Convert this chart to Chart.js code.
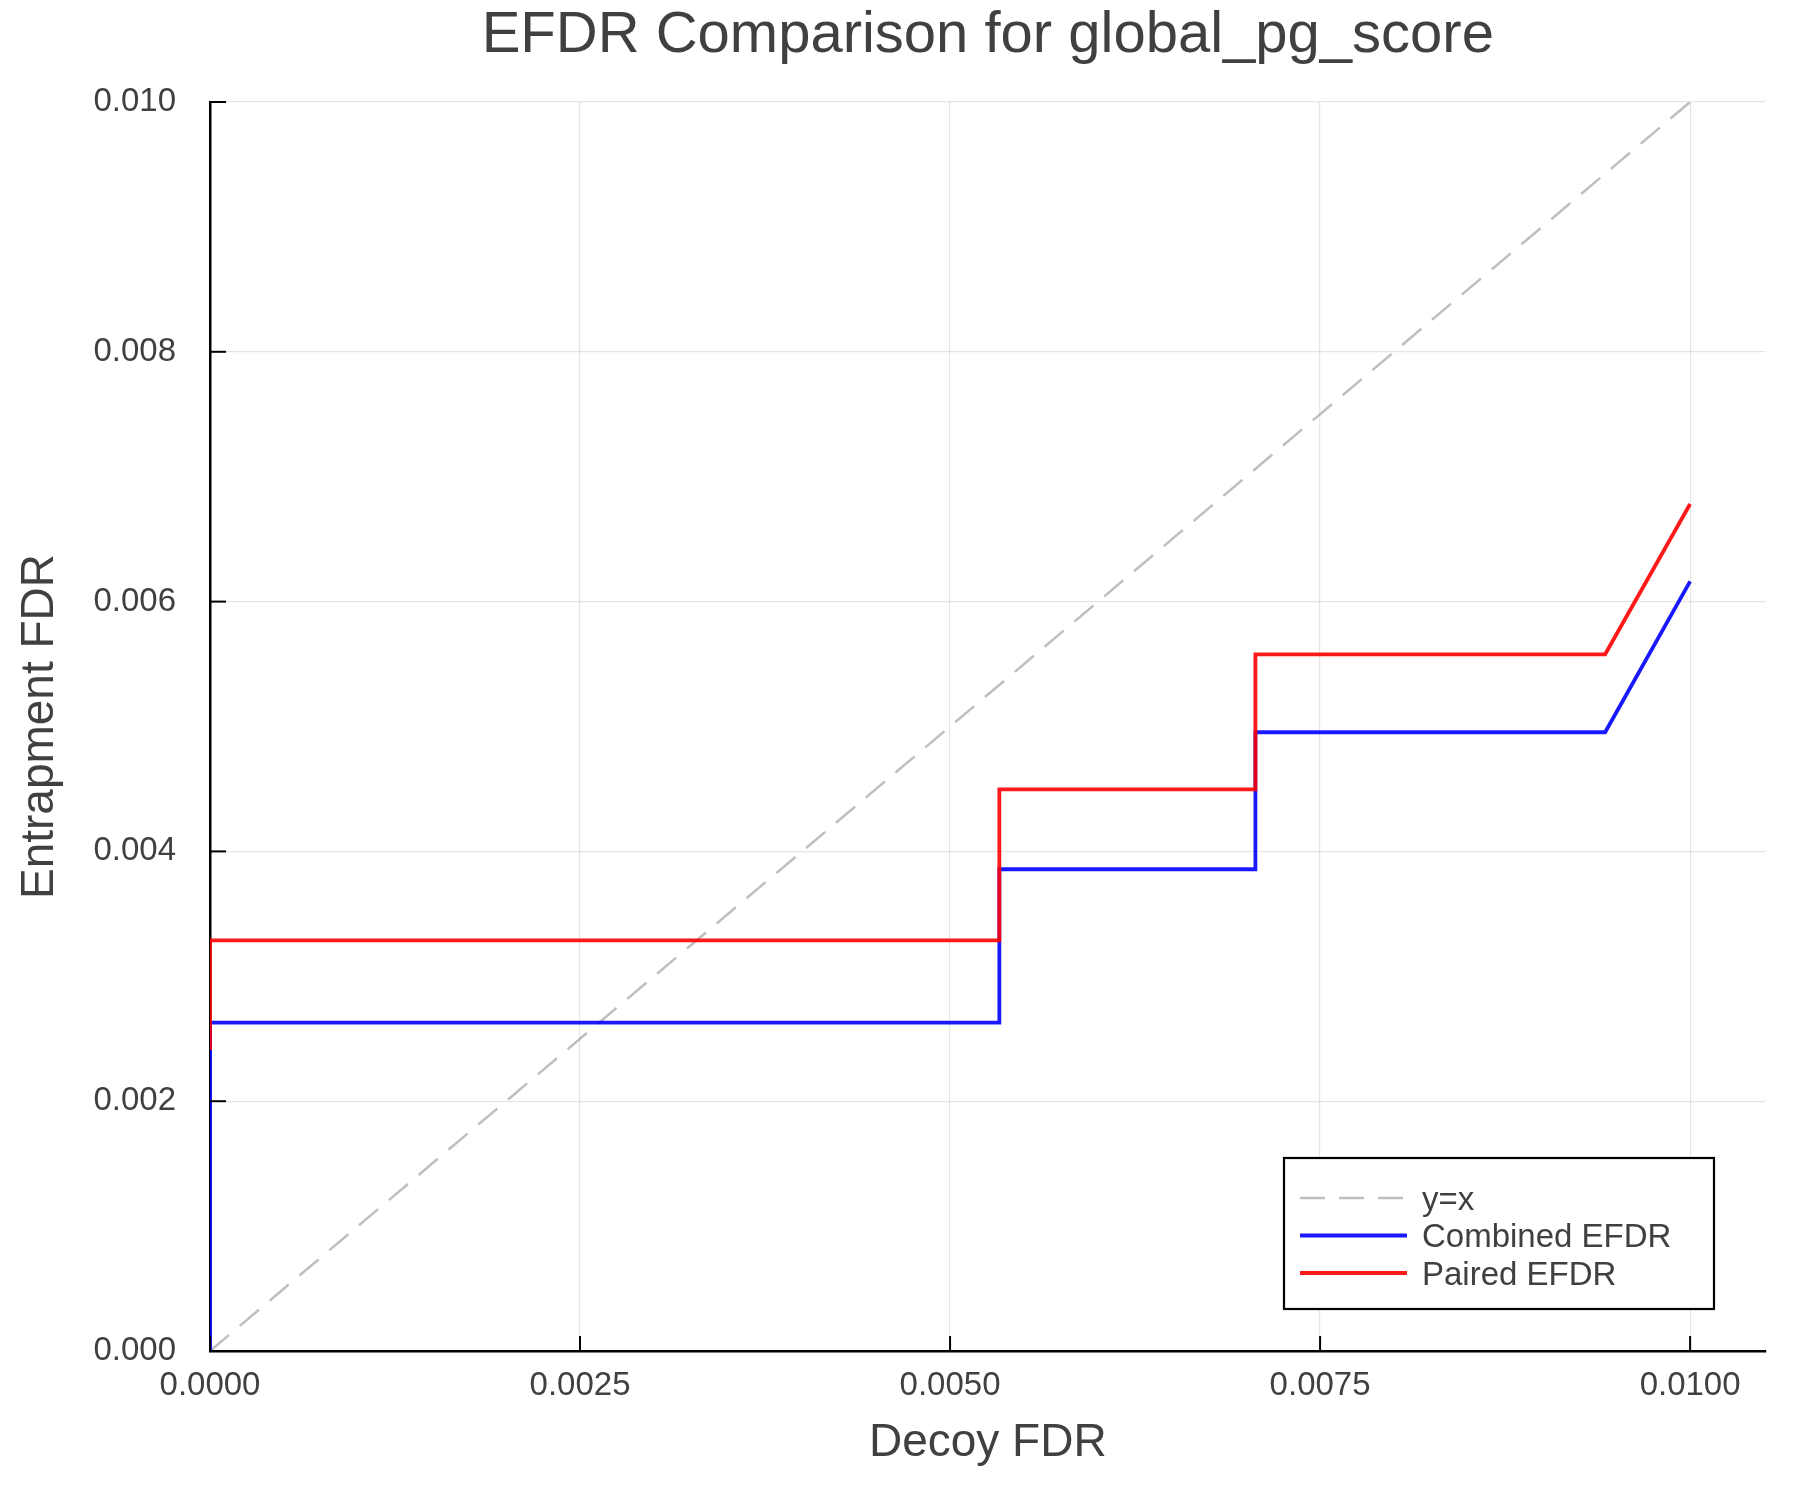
<!DOCTYPE html>
<html>
<head>
<meta charset="utf-8">
<script src="https://cdn.jsdelivr.net/npm/chart.js@4/dist/chart.umd.min.js"></script>
<style>
  html, body { margin: 0; padding: 0; background: #ffffff; }
  #wrap { width: 1800px; height: 1500px; }
</style>
</head>
<body>
<div id="wrap"><canvas id="c" width="1800" height="1500"></canvas></div>
<script>
// ---- Data ----
const seriesNames = ["y=x", "Combined EFDR", "Paired EFDR"];

const diagX = [0, 0.01];
const diagY = [0, 0.01];

const combinedX = [0, 0, 0.005333, 0.005333, 0.007063, 0.007063, 0.009426, 0.01];
const combinedY = [0, 0.002629, 0.002629, 0.003857, 0.003857, 0.004954, 0.004954, 0.006162];

const pairedX = [0, 0, 0.005333, 0.005333, 0.007063, 0.007063, 0.009426, 0.01];
const pairedY = [0.00241, 0.003288, 0.003288, 0.004497, 0.004497, 0.005578, 0.005578, 0.006781];

const xTickValues = [0, 0.0025, 0.005, 0.0075, 0.01];
const xTickLabels = ["0.0000", "0.0025", "0.0050", "0.0075", "0.0100"];
const yTickValues = [0, 0.002, 0.004, 0.006, 0.008, 0.01];
const yTickLabels = ["0.000", "0.002", "0.004", "0.006", "0.008", "0.010"];

const xMin = 0, xMax = 0.01051;
const yMin = 0, yMax = 0.01;

// ---- Build chart ----
const FONT = "'Liberation Sans', Arial, Helvetica, sans-serif";
const TEXT = '#404040';

const toPts = (xs, ys) => xs.map((x, i) => ({ x: x, y: ys[i] }));

const insideTicks = {
  id: 'insideTicks',
  afterDatasetsDraw(chart) {
    const ctx = chart.ctx, a = chart.chartArea;
    const sx = chart.scales.x, sy = chart.scales.y;
    ctx.save();
    ctx.strokeStyle = '#000';
    ctx.lineWidth = 2;
    sx.ticks.forEach(t => {
      const px = sx.getPixelForValue(t.value);
      ctx.beginPath(); ctx.moveTo(px, a.bottom); ctx.lineTo(px, a.bottom - 15); ctx.stroke();
    });
    sy.ticks.forEach(t => {
      const py = sy.getPixelForValue(t.value);
      ctx.beginPath(); ctx.moveTo(a.left, py); ctx.lineTo(a.left + 16, py); ctx.stroke();
    });
    ctx.restore();
  }
};

const boxLegend = {
  id: 'boxLegend',
  afterDraw(chart) {
    const ctx = chart.ctx, a = chart.chartArea;
    const w = 430, h = 151;
    const right = a.right - 51.6, bottom = a.bottom - 42;
    const left = right - w, top = bottom - h;
    ctx.save();
    ctx.fillStyle = '#ffffff';
    ctx.fillRect(left, top, w, h);
    ctx.strokeStyle = '#000';
    ctx.lineWidth = 2.2;
    ctx.strokeRect(left, top, w, h);
    chart.data.datasets.forEach((ds, i) => {
      const y = top + 40 + i * 37.5;
      ctx.beginPath();
      ctx.setLineDash(ds.borderDash || []);
      ctx.strokeStyle = ds.borderColor;
      ctx.lineWidth = ds.borderWidth;
      ctx.moveTo(left + 16, y);
      ctx.lineTo(left + 123, y);
      ctx.stroke();
      ctx.setLineDash([]);
      ctx.fillStyle = TEXT;
      ctx.font = "33px " + FONT;
      ctx.textAlign = 'left';
      ctx.textBaseline = 'middle';
      ctx.fillText(ds.label, left + 138, y + 2.5);
    });
    ctx.restore();
  }
};

new Chart(document.getElementById('c'), {
  type: 'line',
  data: {
    datasets: [
      {
        label: seriesNames[0],
        data: toPts(diagX, diagY),
        borderColor: 'rgba(128,128,128,0.5)',
        borderWidth: 2.5,
        borderDash: [25, 14],
        pointRadius: 0,
        order: 3
      },
      {
        label: seriesNames[1],
        data: toPts(combinedX, combinedY),
        borderColor: 'rgba(0,0,255,0.9)',
        borderWidth: 3.8,
        pointRadius: 0,
        order: 2
      },
      {
        label: seriesNames[2],
        data: toPts(pairedX, pairedY),
        borderColor: 'rgba(255,0,0,0.9)',
        borderWidth: 3.8,
        pointRadius: 0,
        order: 1
      }
    ]
  },
  options: {
    responsive: false,
    devicePixelRatio: 1,
    animation: false,
    events: [],
    elements: { line: { tension: 0, fill: false } },
    layout: { padding: { left: 0, right: 34.4, top: 0, bottom: 0 } },
    plugins: {
      legend: { display: false },
      tooltip: { enabled: false },
      title: {
        display: true,
        text: 'EFDR Comparison for global_pg_score',
        fullSize: false,
        color: TEXT,
        font: { family: FONT, size: 58, weight: 'normal' },
        padding: { top: 1, bottom: 31.4 }
      }
    },
    scales: {
      x: {
        type: 'linear',
        min: xMin,
        max: xMax,
        afterBuildTicks: s => { s.ticks = xTickValues.map(v => ({ value: v })); },
        afterFit: s => { s.height = 149; },
        ticks: {
          callback: (v, i) => xTickLabels[i],
          color: TEXT,
          font: { family: FONT, size: 33 },
          padding: 15,
          maxRotation: 0,
          autoSkip: false
        },
        grid: { color: 'rgba(0,0,0,0.1)', lineWidth: 1.2, drawTicks: false },
        border: { display: true, color: '#000', width: 2.5 },
        title: {
          display: true,
          text: 'Decoy FDR',
          color: TEXT,
          font: { family: FONT, size: 46 },
          padding: { top: 0, bottom: 29 }
        }
      },
      y: {
        type: 'linear',
        min: yMin,
        max: yMax,
        afterBuildTicks: s => { s.ticks = yTickValues.map(v => ({ value: v })); },
        afterFit: s => { s.width = 210; },
        ticks: {
          callback: (v, i) => yTickLabels[i],
          color: TEXT,
          font: { family: FONT, size: 33 },
          padding: 34
        },
        grid: { color: 'rgba(0,0,0,0.1)', lineWidth: 1.2, drawTicks: false },
        border: { display: true, color: '#000', width: 2.5 },
        title: {
          display: true,
          text: 'Entrapment FDR',
          color: TEXT,
          font: { family: FONT, size: 46 },
          padding: { top: 13, bottom: 0 }
        }
      }
    }
  },
  plugins: [insideTicks, boxLegend]
});
</script>
</body>
</html>
